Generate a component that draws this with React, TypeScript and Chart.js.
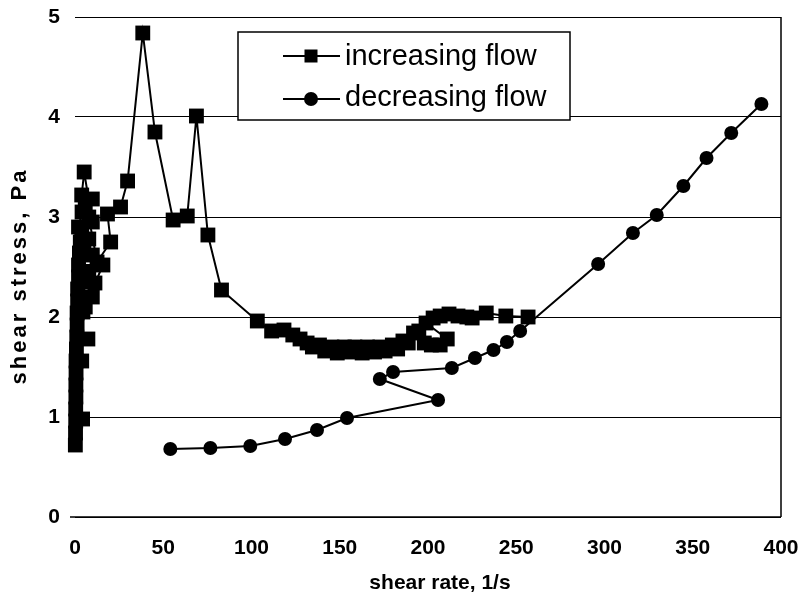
import React, { useEffect, useRef } from "react";
import { Chart, registerables } from "chart.js";

Chart.register(...registerables);

// increasing flow (squares), in measurement order
const incX = [
  0.2, 0.3, 0.4, 4.3, 0.4, 0.5, 0.5, 0.6, 3.8, 0.6, 0.8, 7.3, 1, 1.2, 1.2, 5.8, 1.5, 9.8, 1.5, 11.3, 2, 5.5, 4.5, 15.8, 2, 7.8, 2.5, 9.8, 3, 5, 2, 4, 7.8, 3.8, 9.8,
  5.2, 3.8, 5.8, 9.8, 7.8, 12.5, 20.2, 18.4, 25.8, 29.8, 38.4, 45.3, 55.6, 63.6, 68.8, 75.3, 83,
  103.3, 111.4, 118.4, 123.4, 127.5, 131.5, 134.5, 138.5, 141.5, 145.6, 148.6, 152.6, 155.6, 158.6, 162.7, 165.7, 169.7, 172.7, 175.7, 179.8, 182.8, 185.8, 188.8, 191.8, 194.8,
  197.9, 201.9, 206.9, 210.9, 198.9, 202.9, 206.9, 211.9, 217, 222, 225, 233, 244.1, 256.7,
];
const incY = [
  0.72, 0.84, 0.96, 0.98, 1.08, 1.2, 1.32, 1.44, 1.56, 1.56, 1.68, 1.78, 1.8, 1.92, 2.04, 2.1, 2.16, 2.2, 2.28, 2.34, 2.4, 2.35, 2.05, 2.52, 2.52, 2.45, 2.64, 2.62, 2.75, 2.65, 2.9, 3.05, 2.78, 2.88, 2.95,
  3.45, 3.22, 3.1, 3.18, 3.0, 2.55, 2.75, 3.03, 3.1, 3.36, 4.84, 3.85, 2.97, 3.01, 4.01, 2.82, 2.27,
  1.96, 1.86, 1.87, 1.82, 1.78, 1.74, 1.7, 1.72, 1.66, 1.7, 1.64, 1.7, 1.65, 1.7, 1.64, 1.7, 1.65, 1.7, 1.66, 1.72, 1.68, 1.76, 1.74, 1.84, 1.86,
  1.74, 1.72, 1.72, 1.78, 1.94, 1.99, 2.01, 2.03, 2.01, 2.0, 1.99, 2.04, 2.01, 2.0,
];

// decreasing flow (circles), in measurement order
const decX = [388.9, 371.8, 357.8, 344.7, 329.6, 316.1, 296.4, 252.2, 244.7, 237.1, 226.6, 213.5, 180.2, 172.7, 205.7, 154.1, 137.1, 119, 99.3, 76.7, 54];
const decY = [4.13, 3.84, 3.59, 3.31, 3.02, 2.84, 2.53, 1.86, 1.75, 1.67, 1.59, 1.49, 1.45, 1.38, 1.17, 0.99, 0.87, 0.78, 0.71, 0.69, 0.68];

const seriesNames = ["increasing flow", "decreasing flow"];
const xTitle = "shear rate, 1/s";
const yTitle = "shear stress, Pa";
const xMin = 0, xMax = 400, xStep = 50;
const yMin = 0, yMax = 5, yStep = 1;

const FONT = "'Liberation Sans', Arial, sans-serif";

const frameAndLegend = {
  id: "frameAndLegend",
  afterDraw(chart: any) {
    const { ctx, chartArea } = chart;
    ctx.save();
    ctx.strokeStyle = "#000";
    ctx.fillStyle = "#000";
    // right frame line and bottom axis line
    ctx.lineWidth = 1.5;
    ctx.beginPath();
    ctx.moveTo(chartArea.right, chartArea.top);
    ctx.lineTo(chartArea.right, chartArea.bottom);
    ctx.moveTo(chartArea.left - 5, chartArea.bottom);
    ctx.lineTo(chartArea.right, chartArea.bottom);
    ctx.stroke();

    // axis titles
    ctx.font = `bold 21px ${FONT}`;
    ctx.textAlign = "center";
    ctx.textBaseline = "middle";
    ctx.fillText(xTitle, (chartArea.left + chartArea.right) / 2 + 12, chartArea.bottom + 66);
    ctx.save();
    ctx.translate(20, (chartArea.top + chartArea.bottom) / 2 + 9);
    ctx.rotate(-Math.PI / 2);
    ctx.font = `bold 22px ${FONT}`;
    (ctx as any).letterSpacing = "3px";
    ctx.fillText(yTitle, 0, 0);
    (ctx as any).letterSpacing = "0px";
    ctx.restore();

    // legend box
    const bx = chartArea.left + 163;
    const by = chartArea.top + 15;
    const bw = 332;
    const bh = 88;
    ctx.fillStyle = "#fff";
    ctx.fillRect(bx, by, bw, bh);
    ctx.lineWidth = 1.5;
    ctx.strokeRect(bx, by, bw, bh);

    const rows = [
      { y: by + 24, base: by + 33, style: "rect" },
      { y: by + 67, base: by + 74, style: "circle" },
    ];
    rows.forEach((r, i) => {
      ctx.strokeStyle = "#000";
      ctx.fillStyle = "#000";
      ctx.lineWidth = 2;
      ctx.beginPath();
      ctx.moveTo(bx + 45, r.y);
      ctx.lineTo(bx + 102, r.y);
      ctx.stroke();
      if (r.style === "rect") {
        ctx.fillRect(bx + 73 - 6.5, r.y - 6.5, 13, 13);
      } else {
        ctx.beginPath();
        ctx.arc(bx + 73, r.y, 7, 0, Math.PI * 2);
        ctx.fill();
      }
      ctx.font = `29px ${FONT}`;
      ctx.textBaseline = "alphabetic";
      ctx.textAlign = "left";
      ctx.fillText(seriesNames[i], bx + 107, r.base);
    });
    ctx.restore();
  },
};

export default function App() {
  const ref = useRef<HTMLCanvasElement | null>(null);

  useEffect(() => {
    document.body.style.margin = "0";
    const canvas = ref.current;
    if (!canvas) return;
    const inc = incX.map((x, i) => ({ x, y: incY[i] }));
    const dec = decX.map((x, i) => ({ x, y: decY[i] }));
    const chart = new Chart(canvas, {
      type: "scatter",
      data: {
        datasets: [
          {
            label: seriesNames[0],
            data: inc,
            showLine: true,
            clip: false,
            borderColor: "#000",
            backgroundColor: "#000",
            borderWidth: 2,
            pointStyle: "rect",
            pointRadius: 10.5,
            pointBorderWidth: 0,
            pointBackgroundColor: "#000",
            tension: 0,
          },
          {
            label: seriesNames[1],
            data: dec,
            showLine: true,
            clip: false,
            borderColor: "#000",
            backgroundColor: "#000",
            borderWidth: 2,
            pointStyle: "circle",
            pointRadius: 7,
            pointBorderWidth: 0,
            pointBackgroundColor: "#000",
            tension: 0,
          },
        ],
      },
      options: {
        animation: false,
        responsive: false,
        devicePixelRatio: 1,
        layout: { padding: { left: 0, right: 24, top: 17, bottom: 0 } },
        plugins: { legend: { display: false }, tooltip: { enabled: false } },
        scales: {
          x: {
            type: "linear",
            min: xMin,
            max: xMax,
            afterFit: (s: any) => {
              s.height = 89;
              s.paddingLeft = 0;
              s.paddingRight = 0;
            },
            ticks: { stepSize: xStep, color: "#000", font: { family: FONT, size: 21, weight: "bold" }, padding: 19 },
            grid: { display: false, drawTicks: false },
            border: { display: false },
            title: { display: false },
          },
          y: {
            type: "linear",
            min: yMin,
            max: yMax,
            afterFit: (s: any) => {
              s.width = 75;
              s.paddingTop = 0;
              s.paddingBottom = 0;
            },
            ticks: { stepSize: yStep, color: "#000", font: { family: FONT, size: 21, weight: "bold" }, padding: 15 },
            grid: { display: true, color: "#000", lineWidth: 1, drawTicks: false },
            border: { display: false },
            title: { display: false },
          },
        },
      },
      plugins: [frameAndLegend],
    });
    return () => chart.destroy();
  }, []);

  return (
    <div style={{ width: 805, height: 606 }}>
      <canvas ref={ref} width={805} height={606} style={{ display: "block" }} />
    </div>
  );
}
